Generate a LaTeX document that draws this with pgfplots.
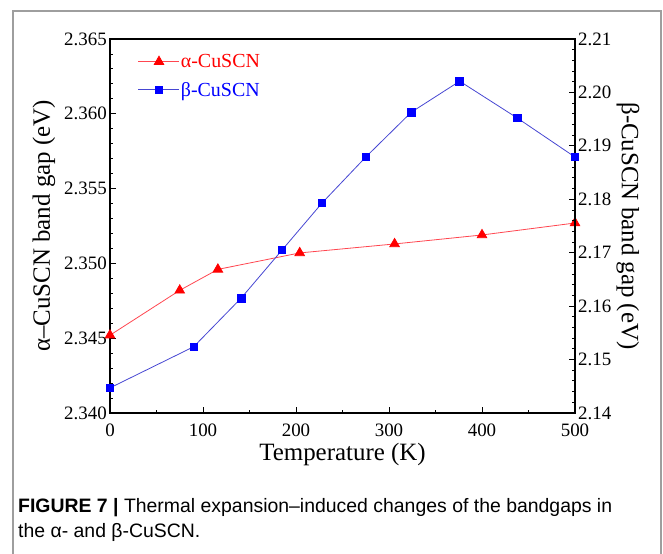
\documentclass[border=0pt]{standalone}
\usepackage{fontspec}
\setmainfont{Liberation Serif}
\newfontfamily\capfont{Liberation Sans}
\usepackage{pgfplots}
\pgfplotsset{compat=1.18}
\definecolor{redline}{RGB}{255,70,80}
\definecolor{blueline}{RGB}{70,70,210}
\begin{document}
\begin{tikzpicture}
\useasboundingbox (-110bp,-141bp) rectangle (553bp,413bp);
\draw[black!38, line width=1.2bp] (-97bp,-150bp) -- (-97bp,402bp) -- (551bp,402bp) -- (551bp,-150bp);
\pgfplotsset{
  common/.style={
    at={(0,0)}, anchor=south west, scale only axis, width=465bp, height=374bp,
    xmin=0, xmax=500,
    tick align=inside,
    major tick length=6bp, minor tick length=3.5bp,
    every tick/.style={black, line width=0.9bp},
    axis line style={line width=1.2bp},
    tick label style={font=\fontsize{19}{21}\selectfont},
    /pgf/number format/assume math mode=true,
    label style={font=\fontsize{25}{28}\selectfont},
    scaled y ticks=false,
    clip=false,
  }
}
\begin{axis}[common,
  ymin=2.340, ymax=2.365,
  xtick={0,100,200,300,400,500}, minor x tick num=1,
  ytick={2.340,2.345,2.350,2.355,2.360,2.365}, minor y tick num=4,
  xtick pos=bottom, ytick pos=left,
  yticklabel style={/pgf/number format/fixed, /pgf/number format/fixed zerofill, /pgf/number format/precision=3, anchor=east, inner sep=0pt, xshift=-3bp},
  xticklabel style={anchor=base, inner sep=0pt, yshift=-23bp},
  xlabel={Temperature (K)},
  xlabel style={at={(axis description cs:0.5,-0.1257)}, anchor=base},
  ylabel={α–CuSCN band gap (eV)},
  ylabel style={at={(axis description cs:-0.1419,0.5)}, anchor=center},
]
\addplot[redline, line width=0.8bp, mark=triangle*, mark size=5.5bp, mark options={fill=red, draw=red}] coordinates {
(0,2.3452) (75,2.3482) (116,2.3496) (204,2.3507) (306,2.3513) (400,2.3519) (500,2.3527)};
\end{axis}
\begin{axis}[common,
  ymin=2.14, ymax=2.21,
  axis y line*=right, axis x line=none,
  ytick={2.14,2.15,2.16,2.17,2.18,2.19,2.20,2.21}, minor y tick num=4,
  yticklabel style={/pgf/number format/fixed, /pgf/number format/fixed zerofill, /pgf/number format/precision=2, anchor=west, inner sep=0pt, xshift=3bp},
  ylabel={β-CuSCN band gap (eV)},
  ylabel style={at={(axis description cs:1.114,0.5)}, anchor=center, rotate=180},
  legend style={at={(axis description cs:0.060,0.962)}, anchor=north west, draw=none, fill=none, inner sep=0pt, row sep=11bp, font=\fontsize{20}{22}\selectfont, nodes={inner sep=1bp}},
  legend cell align=left,
  legend image code/.code={\draw[mark repeat=2, mark phase=2, #1] plot coordinates {(0bp,0bp) (20.5bp,0bp) (41bp,0bp)};},
]
\addlegendimage{redline, line width=0.8bp, mark=triangle*, mark size=5.5bp, mark options={fill=red, draw=red}}
\addlegendentry{\textcolor{red}{α-CuSCN}}
\addplot[blueline, line width=0.8bp, mark=square*, mark size=3.8bp, mark options={fill=blue, draw=blue}] coordinates {
(0,2.1447) (90,2.1524) (141,2.1615) (185,2.1705) (228,2.1793) (275,2.1879) (324,2.1963) (376,2.2021) (438,2.1952) (500,2.1879)};
\addlegendentry{\textcolor{blue}{β-CuSCN}}
\end{axis}
\node[anchor=base west, inner sep=0pt, font=\capfont\fontsize{19.5}{22}\selectfont] at (-92bp,-99bp) {\textbf{FIGURE 7 |} Thermal expansion–induced changes of the bandgaps in};
\node[anchor=base west, inner sep=0pt, font=\capfont\fontsize{19.5}{22}\selectfont] at (-92bp,-124bp) {the α- and β-CuSCN.};
\end{tikzpicture}
\end{document}
